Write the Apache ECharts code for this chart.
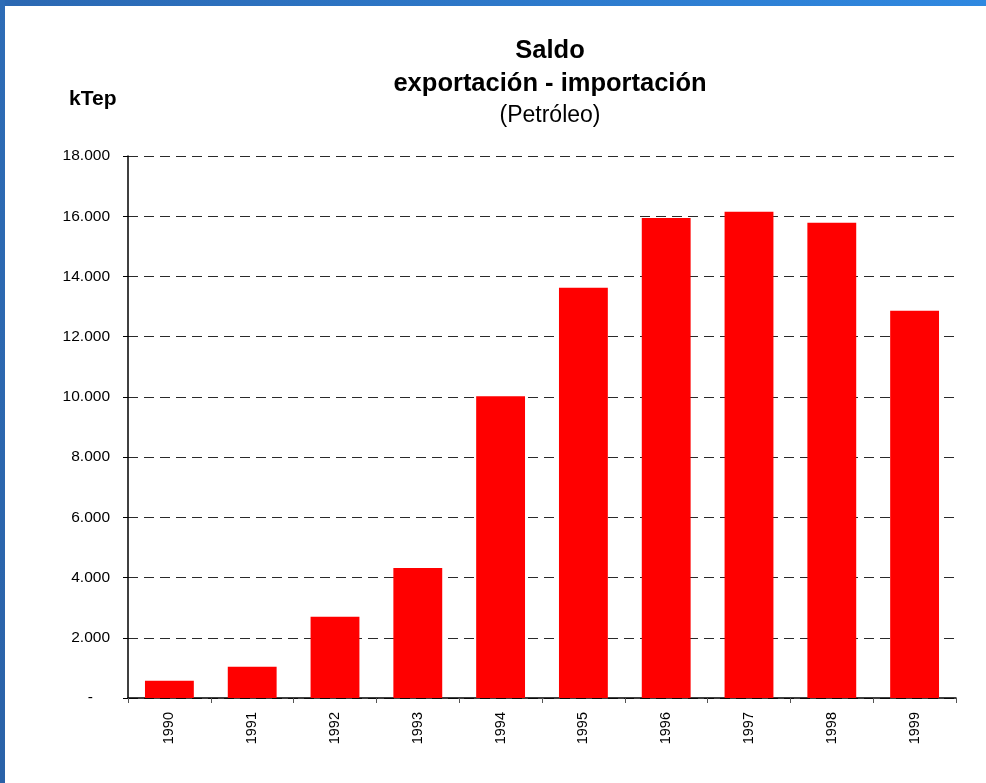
<!DOCTYPE html>
<html>
<head>
<meta charset="utf-8">
<script src="https://cdn.jsdelivr.net/npm/echarts@6/dist/echarts.min.js"></script>
<style>
  html, body { margin: 0; padding: 0; background: #fff; }
  #chart { position: absolute; left: 0; top: 0; width: 986px; height: 783px; }
  #topbar { position: absolute; left: 0; top: 0; width: 986px; height: 6px; background: linear-gradient(to right, #2b68b2, #2f88e0); z-index: 2; }
  #leftbar { position: absolute; left: 0; top: 0; width: 5px; height: 783px; background: linear-gradient(to bottom, #2d6cb6, #2a62a8); z-index: 2; }
</style>
</head>
<body>
<div id="chart"></div>
<div id="topbar"></div>
<div id="leftbar"></div>
<script>
const categories = ['1990','1991','1992','1993','1994','1995','1996','1997','1998','1999'];
const saldo = [570, 1040, 2700, 4320, 10020, 13625, 15945, 16145, 15780, 12860];
const titleLines = ['Saldo', 'exportación - importación'];
const subtitle = '(Petróleo)';
const unitLabel = 'kTep';

const FONT = '"Liberation Sans", Arial, sans-serif';

function fmt(v) {
  if (v === 0) return '{z|-}';
  return String(v).replace(/\B(?=(\d{3})+(?!\d))/g, '.');
}

const chart = echarts.init(document.getElementById('chart'), null, { renderer: 'canvas' });
chart.setOption({
  animation: false,
  backgroundColor: '#ffffff',
  textStyle: { fontFamily: FONT },
  title: [
    { text: titleLines.join('\n'), left: 545, top: 29, textAlign: 'center',
      textStyle: { fontFamily: FONT, fontSize: 25.5, fontWeight: 'bold', color: '#000', lineHeight: 33 } },
    { text: subtitle, left: 545, top: 99, textAlign: 'center',
      textStyle: { fontFamily: FONT, fontSize: 23, fontWeight: 'normal', color: '#000' } },
    { text: unitLabel, left: 64, top: 84,
      textStyle: { fontFamily: FONT, fontSize: 21, fontWeight: 'bold', color: '#000' } }
  ],
  grid: { left: 128, right: 30, top: 156, bottom: 85, containLabel: false },
  xAxis: {
    type: 'category',
    data: categories,
    boundaryGap: true,
    axisLine: { lineStyle: { color: '#000', width: 1.5 } },
    axisTick: { show: true, alignWithLabel: false, length: 5, lineStyle: { color: '#555' } },
    axisLabel: { rotate: 90, margin: 14, fontSize: 14.5, color: '#000', fontFamily: FONT }
  },
  yAxis: {
    type: 'value',
    min: 0, max: 18000, interval: 2000,
    axisLine: { show: true, lineStyle: { color: '#000', width: 1.5 } },
    axisTick: { show: true, length: 5, lineStyle: { color: '#000' } },
    axisLabel: { margin: 18, fontSize: 15.5, color: '#000', fontFamily: FONT, formatter: fmt,
      rich: { z: { fontSize: 15.5, fontFamily: FONT, color: '#000', padding: [0, 17, 0, 0] } } },
    splitLine: { show: true, lineStyle: { color: '#2a2a2a', type: [10, 6], width: 1 } }
  },
  series: [{
    type: 'bar',
    data: saldo,
    barWidth: '59%',
    itemStyle: { color: '#ff0000' }
  }]
});
</script>
</body>
</html>
